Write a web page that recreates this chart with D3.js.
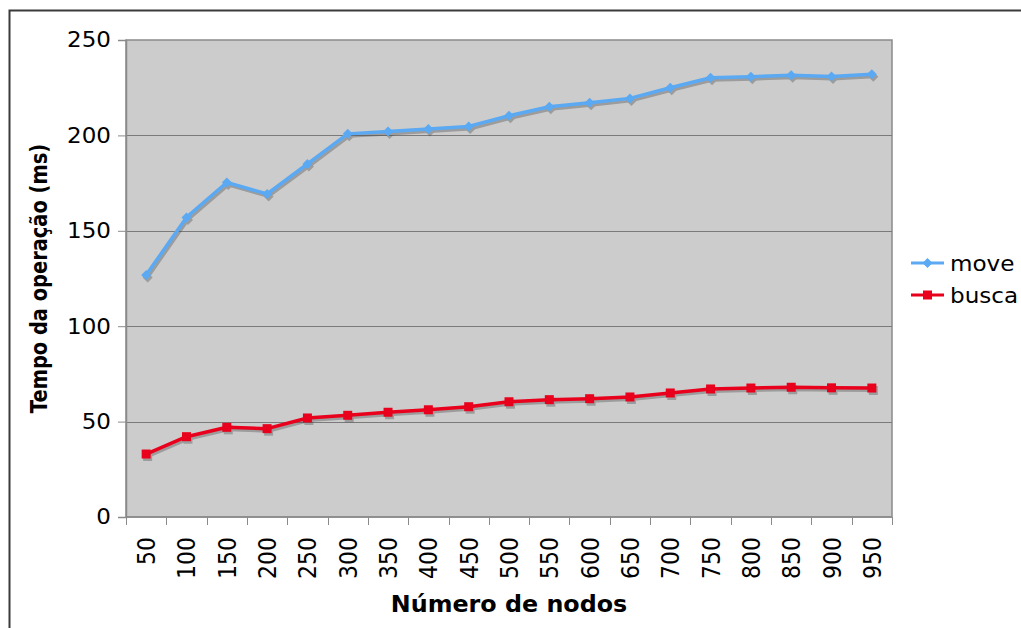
<!DOCTYPE html>
<html>
<head>
<meta charset="utf-8">
<script src="https://cdn.jsdelivr.net/npm/d3@7"></script>
<style>
  body { margin: 0; background: #fff; }
  svg { display: block; font-family: "DejaVu Sans", Verdana, sans-serif; }
</style>
</head>
<body>
<div id="chart"></div>
<script>
// data
var nodos = ["50","100","150","200","250","300","350","400","450","500","550","600","650","700","750","800","850","900","950"];
var moveVals = [126.8, 157, 175.3, 169.3, 185, 200.8, 202, 203.3, 204.7, 210.3, 215, 217.1, 219.4, 225, 230.2, 230.8, 231.5, 230.9, 232];
var buscaVals = [33, 42.1, 47, 46.3, 51.9, 53.3, 54.9, 56.2, 57.8, 60.4, 61.5, 62, 62.9, 65, 67.1, 67.6, 68, 67.7, 67.6];
var yTicks = [0, 50, 100, 150, 200, 250];

var series = [
  { name: "move", values: moveVals, color: "#5aa9f2", marker: "diamond" },
  { name: "busca", values: buscaVals, color: "#e8001c", marker: "square" }
];

var W = 1021, H = 628;
var margin = { top: 40, right: 129, bottom: 111, left: 126 };
var width = W - margin.left - margin.right;
var height = H - margin.top - margin.bottom;

var svg = d3.select("#chart").append("svg")
    .attr("width", W)
    .attr("height", H);

// outer frame
svg.append("rect")
    .attr("x", 9.5).attr("y", 10.5)
    .attr("width", W + 20).attr("height", H + 20)
    .attr("fill", "none")
    .attr("stroke", "#3a3a3a")
    .attr("stroke-width", 2);

var g = svg.append("g")
    .attr("transform", "translate(" + margin.left + "," + margin.top + ")");

var x = d3.scaleBand().domain(nodos).range([0, width]);
var y = d3.scaleLinear().domain([0, 250]).range([height, 0]);

// plot background
g.append("rect")
    .attr("width", width).attr("height", height)
    .attr("fill", "#cccccc")
    .attr("stroke", "#8a8a8a")
    .attr("stroke-width", 1.5);

// gridlines
g.selectAll(".grid")
    .data(yTicks.slice(1, -1))
  .enter().append("line")
    .attr("x1", 0).attr("x2", width)
    .attr("y1", function(d) { return Math.round(y(d)) + 0.5; })
    .attr("y2", function(d) { return Math.round(y(d)) + 0.5; })
    .attr("stroke", "#7a7a7a")
    .attr("stroke-width", 1);

// y axis
var yAxis = g.append("g")
    .call(d3.axisLeft(y).tickValues(yTicks).tickSize(8).tickPadding(6));
yAxis.select(".domain").attr("stroke", "#8a8a8a").attr("stroke-width", 1.5);
yAxis.selectAll(".tick line").attr("stroke", "#8a8a8a");
yAxis.selectAll(".tick text")
    .attr("font-family", "DejaVu Sans")
    .attr("font-size", 21.5)
    .attr("fill", "#000")
    .attr("x", null)
    .attr("transform", "translate(-15,0) scale(1.07,1)");

// x axis: ticks sit between categories
var xAxisG = g.append("g").attr("transform", "translate(0," + height + ")");
xAxisG.append("line")
    .attr("x1", 0).attr("x2", width)
    .attr("stroke", "#8a8a8a").attr("stroke-width", 1.5);
var bounds = nodos.map(function(d) { return x(d); }).concat([width]);
xAxisG.selectAll(".xtick")
    .data(bounds)
  .enter().append("line")
    .attr("x1", function(d) { return Math.round(d) + 0.5; })
    .attr("x2", function(d) { return Math.round(d) + 0.5; })
    .attr("y1", 0).attr("y2", 8)
    .attr("stroke", "#8a8a8a");
xAxisG.selectAll(".xlabel")
    .data(nodos)
  .enter().append("text")
    .attr("transform", function(d) {
      return "translate(" + (x(d) + x.bandwidth() / 2 + 9) + ",20) rotate(-90) scale(1,1.12)";
    })
    .attr("text-anchor", "end")
    .attr("font-size", 22)
    .attr("fill", "#000")
    .text(function(d) { return d; });

// axis titles
svg.append("text")
    .attr("transform", "translate(" + (margin.left + width / 2) + ",612) scale(1.035,1)")
    .attr("text-anchor", "middle")
    .attr("font-weight", "bold")
    .attr("font-size", 23)
    .text("Número de nodos");

svg.append("text")
    .attr("transform", "translate(47," + (margin.top + height / 2) + ") rotate(-90) scale(0.845,1)")
    .attr("text-anchor", "middle")
    .attr("font-weight", "bold")
    .attr("font-size", 23)
    .text("Tempo da operação (ms)");

// lines + markers
var line = d3.line()
    .x(function(d, i) { return x(nodos[i]) + x.bandwidth() / 2; })
    .y(function(d) { return y(d); });

function markerPath(type, cx, cy) {
  if (type === "square") {
    return "M" + (cx - 4.5) + "," + (cy - 4.5) + "h9v9h-9z";
  }
  return "M" + cx + "," + (cy - 5) + "L" + (cx + 5) + "," + cy + "L" + cx + "," + (cy + 5) + "L" + (cx - 5) + "," + cy + "Z";
}

series.forEach(function(s) {
  var sg = g.append("g");
  // drop shadow
  var sh = sg.append("g").attr("transform", "translate(1.5,2.5)").attr("opacity", 0.35);
  sh.append("path")
      .attr("d", line(s.values))
      .attr("fill", "none")
      .attr("stroke", "#444")
      .attr("stroke-width", 3);
  sh.selectAll("path.m")
      .data(s.values)
    .enter().append("path")
      .attr("d", function(d, i) { return markerPath(s.marker, x(nodos[i]) + x.bandwidth() / 2, y(d)); })
      .attr("fill", "#444");

  sg.append("path")
      .attr("d", line(s.values))
      .attr("fill", "none")
      .attr("stroke", s.color)
      .attr("stroke-width", 3.5)
      .attr("stroke-linejoin", "round");
  sg.selectAll("path.m")
      .data(s.values)
    .enter().append("path")
      .attr("d", function(d, i) { return markerPath(s.marker, x(nodos[i]) + x.bandwidth() / 2, y(d)); })
      .attr("fill", s.color);
});

// legend
var legend = svg.append("g").attr("transform", "translate(911,263)");
series.forEach(function(s, i) {
  var lg = legend.append("g").attr("transform", "translate(0," + (i * 32) + ")");
  lg.append("line")
      .attr("x1", 0).attr("x2", 33)
      .attr("stroke", s.color).attr("stroke-width", 3);
  lg.append("path")
      .attr("d", markerPath(s.marker, 16.5, 0))
      .attr("fill", s.color);
  lg.append("text")
      .attr("transform", "translate(39,8) scale(1.05,1)")
      .attr("font-size", 22)
      .text(s.name);
});
</script>
</body>
</html>
